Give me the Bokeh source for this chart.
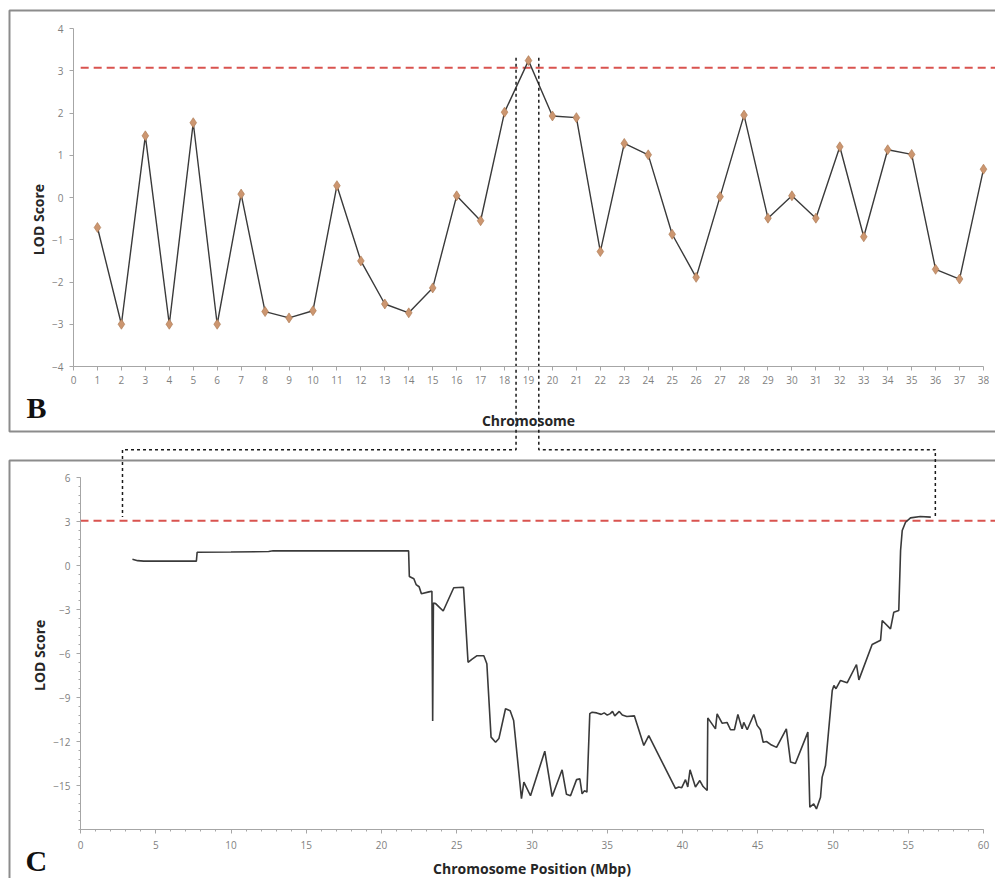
import math
from bokeh.plotting import figure
from bokeh.models import FixedTicker, Range1d, LinearAxis
from bokeh.core.properties import value
from bokeh.embed import file_html
from bokeh.resources import INLINE

# ---------------- Panel B data ----------------
chromosomes = list(range(1, 39))
lod_b = [-0.71, -3.0, 1.46, -3.0, 1.77, -3.0, 0.08, -2.7, -2.85, -2.68,
         0.28, -1.5, -2.52, -2.73, -2.14, 0.04, -0.55, 2.02, 3.24, 1.93,
         1.89, -1.28, 1.28, 1.01, -0.87, -1.89, 0.02, 1.95, -0.49, 0.04,
         -0.49, 1.2, -0.93, 1.13, 1.02, -1.7, -1.93, 0.67]
b_xticks = list(range(0, 39))
b_yticks = list(range(-4, 5))
threshold_b = 3.07

# ---------------- Panel C data ----------------
pos_c = [3.45, 3.8, 4.2, 7.7, 7.75, 10.0, 12.5, 12.8, 21.8,
         21.85, 22.15, 22.3, 22.5, 22.65, 23.15, 23.35, 23.4, 23.45, 23.6, 23.8,
         24.1, 24.8, 25.45, 25.75, 26.0, 26.35, 26.8, 27.0, 27.28, 27.58,
         27.8, 28.24, 28.55, 28.78, 29.3, 29.46, 29.9, 30.85, 31.34, 32.0,
         32.29, 32.56, 32.96, 33.18, 33.33, 33.49, 33.65, 33.84, 34.0, 34.3,
         34.6, 34.8, 35.0, 35.2, 35.35, 35.5, 35.65, 35.8, 36.0, 36.3,
         36.8, 37.43, 37.76, 39.53, 39.75, 39.95, 40.2, 40.35, 40.5, 40.86,
         41.15, 41.37, 41.64, 41.68, 42.19, 42.3, 42.63, 42.96, 43.19, 43.45,
         43.68, 43.96, 44.07, 44.3, 44.74, 44.96, 45.18, 45.36, 45.58, 45.85,
         46.25, 46.9, 47.18, 47.5, 48.33, 48.46, 48.72, 48.9, 49.17, 49.28,
         49.5, 49.95, 50.06, 50.2, 50.5, 50.94, 51.56, 51.72, 52.6, 53.16,
         53.27, 53.82, 54.04, 54.37, 54.49, 54.6, 54.82, 55.15, 55.8, 56.5]
lod_c = [0.42, 0.33, 0.30, 0.30, 0.90, 0.92, 0.95, 1.0, 1.0,
         -0.75, -0.9, -1.3, -1.45, -1.93, -1.8, -1.75, -10.6, -2.55, -2.6, -2.8,
         -3.1, -1.52, -1.48, -6.6, -6.4, -6.15, -6.15, -6.7, -11.7, -12.05,
         -11.8, -9.77, -9.9, -10.57, -15.9, -14.77, -15.7, -12.66, -15.75, -13.93,
         -15.6, -15.7, -14.6, -14.55, -15.57, -15.35, -15.45, -10.1, -10.0, -10.05,
         -10.15, -10.05, -10.2, -10.1, -9.95, -10.25, -10.1, -9.95, -10.2, -10.3,
         -10.25, -12.27, -11.6, -15.2, -15.1, -15.15, -14.6, -15.1, -13.93, -15.1,
         -14.66, -15.07, -15.34, -10.39, -11.14, -10.12, -10.75, -10.7, -11.2, -11.2,
         -10.16, -11.14, -10.7, -11.2, -10.16, -10.9, -11.2, -12.05, -12.0, -12.2,
         -12.4, -11.14, -13.4, -13.5, -11.36, -16.48, -16.25, -16.6, -15.8, -14.43,
         -13.64, -8.52, -8.18, -8.4, -7.84, -8.0, -6.75, -7.8, -5.39, -5.1,
         -3.75, -4.32, -3.18, -3.07, 1.02, 2.39, 2.95, 3.25, 3.34, 3.3]
c_xticks = list(range(0, 61, 5))
c_yticks = [-15, -12, -9, -6, -3, 0, 3, 6]
threshold_c = 3.05

# zoom connector (data units)
conn_b_x = [18.48, 19.43]   # chromosome units, panel B
conn_b_top = 3.31           # LOD, panel B
conn_c_x = [2.79, 56.8]     # Mbp, panel C
conn_c_top = 3.3            # LOD, panel C
conn_gap = 7.9              # LOD level (panel C scale) of the bridge

# ---------------- layout geometry (canvas px) ----------------
W, H = 995, 878
B_X0, B_X1 = 73, 983     # chromosome 0 / 38
B_Y0, B_Y1 = 366, 28     # LOD -4 / 4
C_X0, C_X1 = 80, 983     # Mbp 0 / 60
C_Y0, C_Y1 = 829, 477    # LOD -18 / 6


def lin(p, p0, p1, v0, v1):
    return v0 + (p - p0) * (v1 - v0) / (p1 - p0)


# pixel -> panel B data (the main coordinate system)
def pxb(px):
    return lin(px, B_X0, B_X1, 0, 38)


def pyb(py):
    return lin(py, B_Y0, B_Y1, -4, 4)


def inv(v, p0, p1, v0, v1):
    return p0 + (v - v0) * (p1 - p0) / (v1 - v0)


def cx_to_b(v):
    return pxb(inv(v, C_X0, C_X1, 0, 60))


def cy_to_b(v):
    return pyb(inv(v, C_Y0, C_Y1, -18, 6))


GRAY_TXT = "#7f7f7f"
AX = "#a6a6a6"
FONT = "Open Sans"
TITLE_COL = "#262626"

p = figure(width=W, height=H, output_backend="svg", toolbar_location=None,
           x_range=Range1d(pxb(0), pxb(W)), y_range=Range1d(pyb(H), pyb(0)),
           x_axis_location=None, y_axis_location=None, min_border=0)
p.extra_x_ranges = {"c": Range1d(lin(0, C_X0, C_X1, 0, 60), lin(W, C_X0, C_X1, 0, 60))}
p.extra_y_ranges = {"c": Range1d(lin(H, C_Y0, C_Y1, -18, 6), lin(0, C_Y0, C_Y1, -18, 6))}
p.background_fill_color = "white"
p.border_fill_color = "white"
p.outline_line_color = None
p.grid.visible = False


def make_axis(ax, ticks, minor, label, lab_standoff, title_standoff):
    ax.ticker = FixedTicker(ticks=ticks, minor_ticks=minor)
    ax.axis_label = label
    ax.axis_line_color = AX
    ax.major_tick_line_color = AX
    ax.minor_tick_line_color = AX
    ax.major_label_text_color = GRAY_TXT
    ax.major_label_text_font = FONT
    ax.major_label_text_font_size = "10px"
    ax.axis_label_text_font = FONT
    ax.axis_label_text_font_style = "bold"
    ax.axis_label_text_font_size = "14px"
    ax.axis_label_text_color = TITLE_COL
    ax.major_tick_in = 0
    ax.major_tick_out = 4
    ax.minor_tick_in = 0
    ax.minor_tick_out = 2
    ax.major_label_standoff = lab_standoff
    ax.axis_label_standoff = title_standoff
    return ax


# axes of panel B
xb_axis = make_axis(LinearAxis(fixed_location=-4, bounds=(0, 38)),
                    b_xticks, [], "Chromosome", 5, 24)
yb_axis = make_axis(LinearAxis(fixed_location=0, bounds=(-4, 4)),
                    b_yticks, [], None, 6, 3)
p.add_layout(xb_axis, "below")
p.add_layout(yb_axis, "left")

# axes of panel C
xc_axis = make_axis(LinearAxis(x_range_name="c", y_range_name="c", fixed_location=-18,
                               bounds=(0, 60)),
                    c_xticks, list(range(0, 61)), "Chromosome Position (Mbp)", 7, 7)
yc_axis = make_axis(LinearAxis(x_range_name="c", y_range_name="c", fixed_location=0,
                               bounds=(-18, 6)),
                    c_yticks, [-18 + 0.6 * i for i in range(41)], "LOD  Score", 6, 1)
p.add_layout(xc_axis, "below")
p.add_layout(yc_axis, "left")

# panel B y-axis title (placed low, as in the original)
p.text([pxb(37.5)], [pyb(219)], text=["LOD Score"], angle=math.pi / 2,
       text_font=value(FONT), text_font_style="bold", text_font_size="14px",
       text_color=TITLE_COL, text_align="center", text_baseline="middle")

# panel frames (boxes)
BOX = "#8c8c8c"
p.line([pxb(1010), pxb(9), pxb(9), pxb(1010)], [pyb(10), pyb(10), pyb(431), pyb(431)],
       line_color=BOX, line_width=2)
p.line([pxb(1010), pxb(9), pxb(9)], [pyb(460), pyb(460), pyb(890)],
       line_color=BOX, line_width=2)

# thresholds
RED = "#d9534f"
p.line([0.3, 38.6], [threshold_b, threshold_b], line_color=RED, line_dash="8 5", line_width=2)
p.line([0, 61], [threshold_c, threshold_c], line_color=RED, line_dash="8 5", line_width=2,
       x_range_name="c", y_range_name="c")

# panel B series
p.line(chromosomes, lod_b, line_color="#3a3a3a", line_width=1.4)
p.scatter(chromosomes, lod_b, marker="diamond", size=10,
          fill_color="#cc9670", line_color="#a8744c", line_width=0.6)

# panel C series
p.line(pos_c, lod_c, line_color="#3a3a3a", line_width=1.6,
       x_range_name="c", y_range_name="c")

# zoom connectors
for xb, xc in zip(conn_b_x, conn_c_x):
    p.line([xb, xb, cx_to_b(xc), cx_to_b(xc)],
           [conn_b_top, cy_to_b(conn_gap), cy_to_b(conn_gap), cy_to_b(conn_c_top)],
           line_color="#1a1a1a", line_dash="3 3", line_width=1.5)

# panel letters
p.text([pxb(26), pxb(25)], [pyb(407), pyb(860)], text=["B", "C"],
       text_font=value("Liberation Serif"), text_font_style="bold",
       text_font_size="30px", text_color="#111111", text_baseline="alphabetic")

open("out.html", "w").write(file_html(p, INLINE))
